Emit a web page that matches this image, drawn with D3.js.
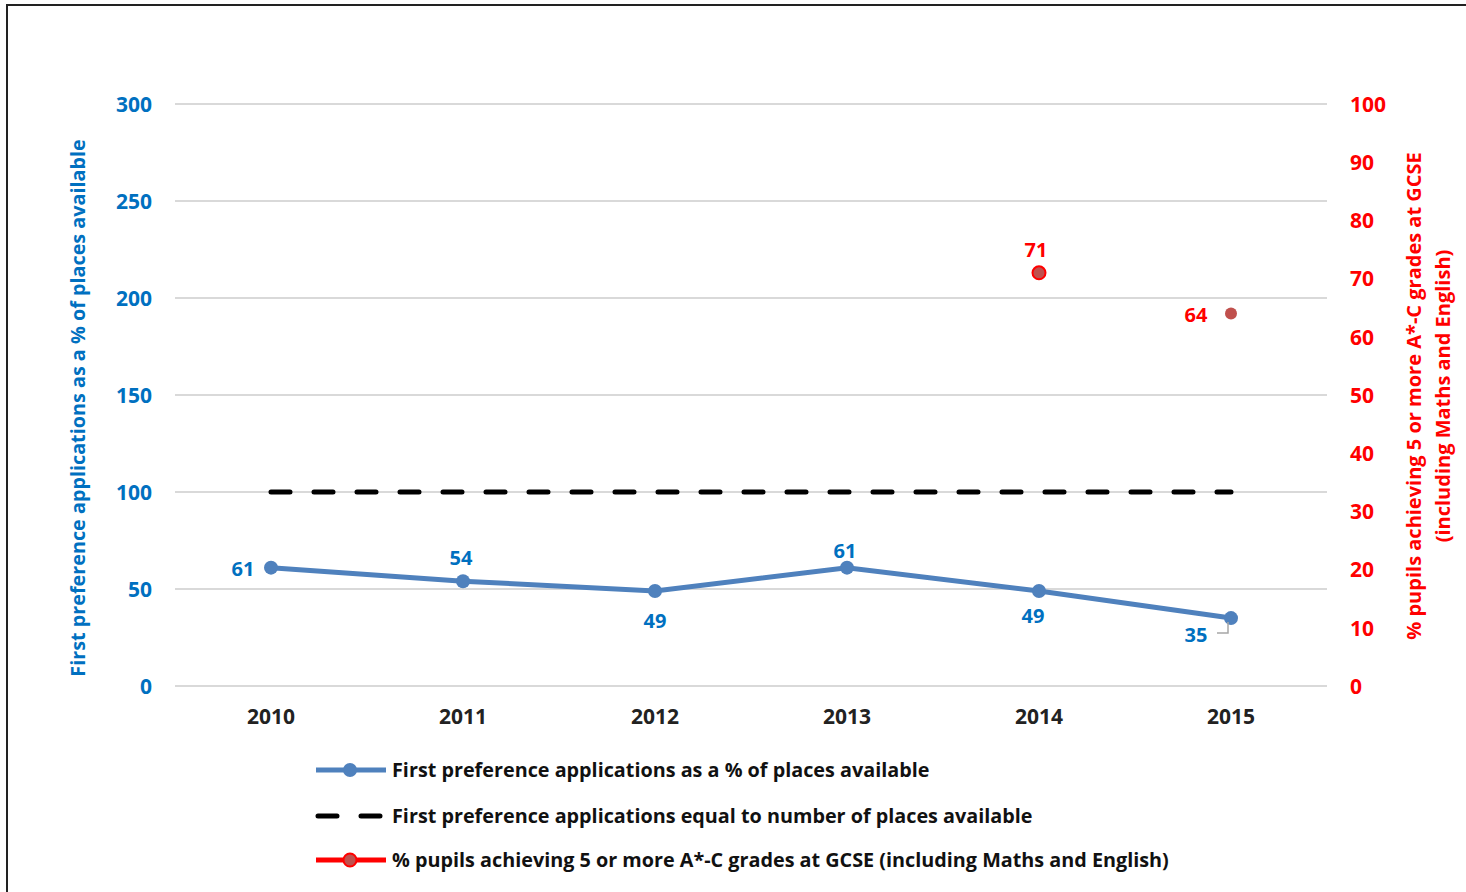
<html>
<head>
<meta charset="utf-8">
<script src="https://d3js.org/d3.v7.min.js"></script>
<style>
  body { margin: 0; background: #fff; }
  text { font-family: "Open Sans", sans-serif; font-weight: bold; }
</style>
</head>
<body>
<div id="chart"></div>
<script>
// chart values
var years = ["2010", "2011", "2012", "2013", "2014", "2015"];
var applications = [61, 54, 49, 61, 49, 35];
var placesLine = [100, 100, 100, 100, 100, 100];
var gcseYears = ["2014", "2015"];
var gcse = [71, 64];
var leftTicks = [0, 50, 100, 150, 200, 250, 300];
var rightTicks = [0, 10, 20, 30, 40, 50, 60, 70, 80, 90, 100];
var legendLabels = [
  "First preference applications as a % of places available",
  "First preference applications equal to number of places available",
  "% pupils achieving 5 or more A*-C grades at GCSE (including Maths and English)"
];

var W = 1466, H = 892;
var blue = "#4F81BD", blueText = "#0070C0", red = "#FF0000", redFill = "#C0504D";
var font = "\"Open Sans\", sans-serif";

var svg = d3.select("#chart").append("svg")
  .attr("width", W).attr("height", H);

// outer frame
svg.append("rect")
  .attr("x", 7).attr("y", 5).attr("width", W + 20).attr("height", H + 20)
  .attr("fill", "none").attr("stroke", "#222").attr("stroke-width", 2);

var x = d3.scaleBand().domain(years).range([175, 1327]);
var y = d3.scaleLinear().domain([0, 300]).range([686, 104]);
var y2 = d3.scaleLinear().domain([0, 100]).range([686, 104]);
var cx = function(d) { return x(d) + x.bandwidth() / 2; };

// gridlines
svg.append("g").selectAll("line").data(leftTicks).enter().append("line")
  .attr("x1", 175).attr("x2", 1327)
  .attr("y1", function(d) { return y(d); }).attr("y2", function(d) { return y(d); })
  .attr("stroke", "#D9D9D9").attr("stroke-width", 2);

// left axis
var gl = svg.append("g").attr("transform", "translate(152,0)")
  .call(d3.axisLeft(y).tickValues(leftTicks).tickSize(0).tickPadding(0));
gl.select(".domain").remove();
gl.selectAll("text").attr("fill", blueText).attr("font-size", 21)
  .attr("font-family", font).attr("font-weight", "bold").attr("dy", "0.35em");

// right axis
var gr = svg.append("g").attr("transform", "translate(1350,0)")
  .call(d3.axisRight(y2).tickValues(rightTicks).tickSize(0).tickPadding(0));
gr.select(".domain").remove();
gr.selectAll("text").attr("fill", red).attr("font-size", 21)
  .attr("font-family", font).attr("font-weight", "bold").attr("dy", "0.35em");

// x axis
var gx = svg.append("g").attr("transform", "translate(0,717)")
  .call(d3.axisBottom(x).tickSize(0).tickPadding(0));
gx.select(".domain").remove();
gx.selectAll("text").attr("fill", "#222").attr("font-size", 21)
  .attr("font-family", font).attr("font-weight", "bold").attr("y", 0).attr("dy", "0.35em");

// axis titles
svg.append("text")
  .attr("transform", "translate(85,408) rotate(-90)")
  .attr("text-anchor", "middle").attr("fill", blueText).attr("font-size", 19.8)
  .text("First preference applications as a % of places available");
var rt = svg.append("text")
  .attr("transform", "translate(1421,396) rotate(-90)")
  .attr("text-anchor", "middle").attr("fill", red).attr("font-size", 20);
rt.append("tspan").attr("x", 0).attr("dy", 0).text("% pupils achieving 5 or more A*-C grades at GCSE");
rt.append("tspan").attr("x", 0).attr("dy", 29).text("(including Maths and English)");

// dashed 100 line
svg.append("path")
  .datum(placesLine)
  .attr("d", d3.line().x(function(d, i) { return cx(years[i]); }).y(function(d) { return y(d); }))
  .attr("fill", "none").attr("stroke", "#000").attr("stroke-width", 5)
  .attr("stroke-linecap", "round").attr("stroke-dasharray", "19 24");

// applications line
svg.append("path")
  .datum(applications)
  .attr("d", d3.line().x(function(d, i) { return cx(years[i]); }).y(function(d) { return y(d); }))
  .attr("fill", "none").attr("stroke", blue).attr("stroke-width", 5);
svg.append("g").selectAll("circle").data(applications).enter().append("circle")
  .attr("cx", function(d, i) { return cx(years[i]); })
  .attr("cy", function(d) { return y(d); })
  .attr("r", 7).attr("fill", blue);

// application labels: position relative to point
var labelPos = [
  {dx: -28, dy: 1},
  {dx: -2, dy: -23},
  {dx: 0, dy: 30},
  {dx: -2, dy: -17},
  {dx: -6, dy: 25},
  {dx: -35, dy: 17}
];
svg.append("g").selectAll("text").data(applications).enter().append("text")
  .attr("x", function(d, i) { return cx(years[i]) + labelPos[i].dx; })
  .attr("y", function(d, i) { return y(d) + labelPos[i].dy; })
  .attr("dy", "0.35em").attr("text-anchor", "middle")
  .attr("fill", blueText).attr("font-size", 20)
  .text(function(d) { return d; });

// leader line for last label
var lx = cx(years[5]), ly = y(applications[5]);
svg.append("path")
  .attr("d", "M" + (lx - 14) + "," + (ly + 15) + "H" + (lx - 3) + "V" + (ly + 4))
  .attr("fill", "none").attr("stroke", "#A6A6A6").attr("stroke-width", 1.5);

// GCSE points
svg.append("g").selectAll("circle").data(gcse).enter().append("circle")
  .attr("cx", function(d, i) { return cx(gcseYears[i]); })
  .attr("cy", function(d) { return y2(d); })
  .attr("r", function(d, i) { return i === 0 ? 6.5 : 6; })
  .attr("fill", redFill)
  .attr("stroke", function(d, i) { return i === 0 ? red : "none"; })
  .attr("stroke-width", 2);
var gcsePos = [{dx: -3, dy: -23}, {dx: -35, dy: 1}];
svg.append("g").selectAll("text").data(gcse).enter().append("text")
  .attr("x", function(d, i) { return cx(gcseYears[i]) + gcsePos[i].dx; })
  .attr("y", function(d, i) { return y2(d) + gcsePos[i].dy; })
  .attr("dy", "0.35em").attr("text-anchor", "middle")
  .attr("fill", red).attr("font-size", 20)
  .text(function(d) { return d; });

// legend
var legend = svg.append("g");
var rowY = [770, 816, 860];
legendLabels.forEach(function(label, i) {
  var g = legend.append("g").attr("transform", "translate(0," + rowY[i] + ")");
  if (i === 0) {
    g.append("line").attr("x1", 316).attr("x2", 386).attr("stroke", blue).attr("stroke-width", 5);
    g.append("circle").attr("cx", 350).attr("r", 7).attr("fill", blue);
  } else if (i === 1) {
    g.append("line").attr("x1", 318).attr("x2", 380).attr("stroke", "#000").attr("stroke-width", 5)
      .attr("stroke-linecap", "round").attr("stroke-dasharray", "19 24");
  } else {
    g.append("line").attr("x1", 316).attr("x2", 386).attr("stroke", red).attr("stroke-width", 5);
    g.append("circle").attr("cx", 350).attr("r", 6.5).attr("fill", redFill)
      .attr("stroke", red).attr("stroke-width", 2);
  }
  g.append("text").attr("x", 392).attr("dy", "0.35em")
    .attr("fill", "#111").attr("font-size", 19.8).text(label);
});
</script>
</body>
</html>
